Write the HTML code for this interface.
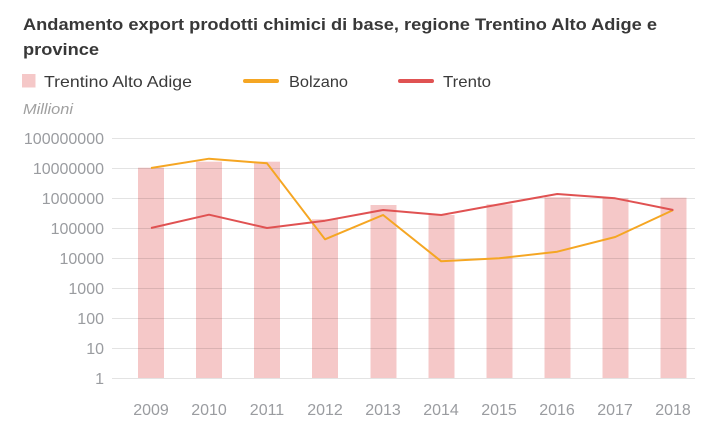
<!DOCTYPE html>
<html>
<head>
<meta charset="utf-8">
<style>
  html,body{margin:0;padding:0;background:#fff;}
  body{width:716px;height:431px;overflow:hidden;}
  svg{display:block;}
  text{font-family:"Liberation Sans",Arial,sans-serif;}
</style>
</head>
<body>
<svg width="716" height="431" viewBox="0 0 716 431" xmlns="http://www.w3.org/2000/svg">
  <!-- Title -->
  <text x="23" y="30" font-size="17" font-weight="bold" fill="#383838" textLength="634" lengthAdjust="spacingAndGlyphs">Andamento export prodotti chimici di base, regione Trentino Alto Adige e</text>
  <text x="23" y="55" font-size="17" font-weight="bold" fill="#383838" textLength="76" lengthAdjust="spacingAndGlyphs">province</text>

  <!-- Legend -->
  <rect x="22" y="74" width="13.5" height="13.5" fill="#f5c8c8"/>
  <text x="44" y="87" font-size="16" fill="#3a3a3a" textLength="148" lengthAdjust="spacingAndGlyphs">Trentino Alto Adige</text>
  <line x1="245" y1="81" x2="277" y2="81" stroke="#f5a623" stroke-width="4" stroke-linecap="round"/>
  <text x="289" y="87" font-size="16" fill="#3a3a3a" textLength="59" lengthAdjust="spacingAndGlyphs">Bolzano</text>
  <line x1="400" y1="81" x2="432" y2="81" stroke="#e05252" stroke-width="4" stroke-linecap="round"/>
  <text x="443" y="87" font-size="16" fill="#3a3a3a" textLength="48" lengthAdjust="spacingAndGlyphs">Trento</text>

  <text x="23" y="114" font-size="15" font-style="italic" fill="#a0a0a0" textLength="50" lengthAdjust="spacingAndGlyphs">Millioni</text>

  <!-- Bars -->
  <g fill="#f5c8c8">
    <rect x="138" y="167.7" width="26" height="210.3"/>
    <rect x="196" y="161.7" width="26" height="216.3"/>
    <rect x="254" y="161.7" width="26" height="216.3"/>
    <rect x="312" y="219.3" width="26" height="158.7"/>
    <rect x="370.5" y="205" width="26" height="173"/>
    <rect x="428.5" y="215" width="26" height="163"/>
    <rect x="486.5" y="204.3" width="26" height="173.7"/>
    <rect x="544.5" y="197.3" width="26" height="180.7"/>
    <rect x="602.5" y="198.3" width="26" height="179.7"/>
    <rect x="660.5" y="197.7" width="26" height="180.3"/>
  </g>

  <!-- Gridlines -->
  <g stroke="#000" stroke-opacity="0.11" stroke-width="1">
    <line x1="112" y1="138.5" x2="695" y2="138.5"/>
    <line x1="112" y1="168.5" x2="695" y2="168.5"/>
    <line x1="112" y1="198.5" x2="695" y2="198.5"/>
    <line x1="112" y1="228.5" x2="695" y2="228.5"/>
    <line x1="112" y1="258.5" x2="695" y2="258.5"/>
    <line x1="112" y1="288.5" x2="695" y2="288.5"/>
    <line x1="112" y1="318.5" x2="695" y2="318.5"/>
    <line x1="112" y1="348.5" x2="695" y2="348.5"/>
    <line x1="112" y1="378.5" x2="695" y2="378.5"/>
  </g>

  <!-- Y axis labels -->
  <g font-size="16" fill="#9a9ca0" text-anchor="end">
    <text x="104" y="144">100000000</text>
    <text x="104" y="174">10000000</text>
    <text x="104" y="204">1000000</text>
    <text x="104" y="234">100000</text>
    <text x="104" y="264">10000</text>
    <text x="104" y="294">1000</text>
    <text x="104" y="324">100</text>
    <text x="104" y="354">10</text>
    <text x="104" y="384">1</text>
  </g>

  <!-- X axis labels -->
  <g font-size="16" fill="#9a9ca0" text-anchor="middle">
    <text x="151" y="415">2009</text>
    <text x="209" y="415">2010</text>
    <text x="267" y="415">2011</text>
    <text x="325" y="415">2012</text>
    <text x="383" y="415">2013</text>
    <text x="441" y="415">2014</text>
    <text x="499" y="415">2015</text>
    <text x="557" y="415">2016</text>
    <text x="615" y="415">2017</text>
    <text x="673" y="415">2018</text>
  </g>

  <!-- Bolzano -->
  <polyline fill="none" stroke="#f5a623" stroke-width="2" stroke-linejoin="round"
    points="151,168 209,158.7 267,163.3 325,239.3 383.1,215 441.2,261.3 499.2,258.3 557.2,251.7 615.2,237 673.3,210"/>
  <!-- Trento -->
  <polyline fill="none" stroke="#e05252" stroke-width="2" stroke-linejoin="round"
    points="151,228 209,214.7 267,228 325,220.7 383.1,210 441.2,215 499.2,204.4 557.2,194 615.2,198.3 673.3,210"/>
</svg>
</body>
</html>
